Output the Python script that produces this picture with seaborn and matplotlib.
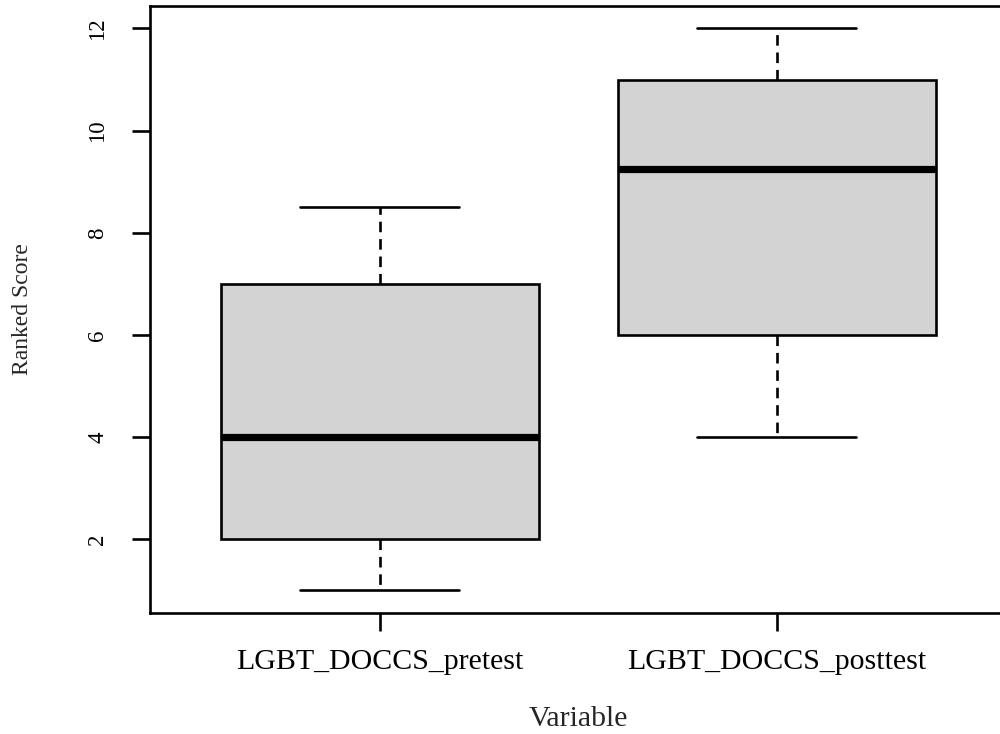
import matplotlib
matplotlib.use("Agg")
import matplotlib.pyplot as plt
import seaborn as sns
import pandas as pd

# Five-number summaries (min, Q1, median, Q3, max)
categories = ["LGBT_DOCCS_pretest", "LGBT_DOCCS_posttest"]
pretest_values = [1, 2, 4, 7, 8.5]
posttest_values = [4, 6, 9.25, 11, 12]
y_ticks = [2, 4, 6, 8, 10, 12]

df = pd.DataFrame({
    "Variable": [categories[0]] * len(pretest_values) + [categories[1]] * len(posttest_values),
    "Ranked Score": pretest_values + posttest_values,
})

sns.set_style("white")
plt.rcParams["font.family"] = ["Liberation Serif", "DejaVu Serif"]

fig = plt.figure(figsize=(10, 7.34), dpi=100)
ax = fig.add_axes([0.1495, 0.165, 0.8575, 0.8268])

sns.boxplot(
    data=df, x="Variable", y="Ranked Score", order=categories, ax=ax,
    whis=(0, 100), width=0.8, color="#D3D3D3", saturation=1,
    boxprops=dict(facecolor="#D3D3D3", edgecolor="black", linewidth=1.9),
    medianprops=dict(color="black", linewidth=5.2, solid_capstyle="butt"),
    whiskerprops=dict(color="black", linewidth=1.9, linestyle=(0, (4, 2.6))),
    capprops=dict(color="black", linewidth=1.9),
    capwidths=0.4, showfliers=False,
)

ax.set_xlim(-0.58, 1.58)
ax.set_ylim(0.56, 12.44)
ax.set_yticks(y_ticks)
ax.set_yticklabels([str(t) for t in y_ticks], rotation=90, va="center")

for s in ax.spines.values():
    s.set_visible(True)
    s.set_color("black")
    s.set_linewidth(1.9)

ax.tick_params(axis="both", which="both", direction="out", length=13, width=1.9,
               colors="black", left=True, bottom=True)
ax.tick_params(axis="y", pad=16.8, labelsize=16.5)
ax.tick_params(axis="x", pad=13, labelsize=21.5)
ax.set_xlabel("Variable", fontsize=21.5, labelpad=22)
ax.set_ylabel("Ranked Score", fontsize=17, labelpad=39)

fig.savefig("out.png", dpi=100)
